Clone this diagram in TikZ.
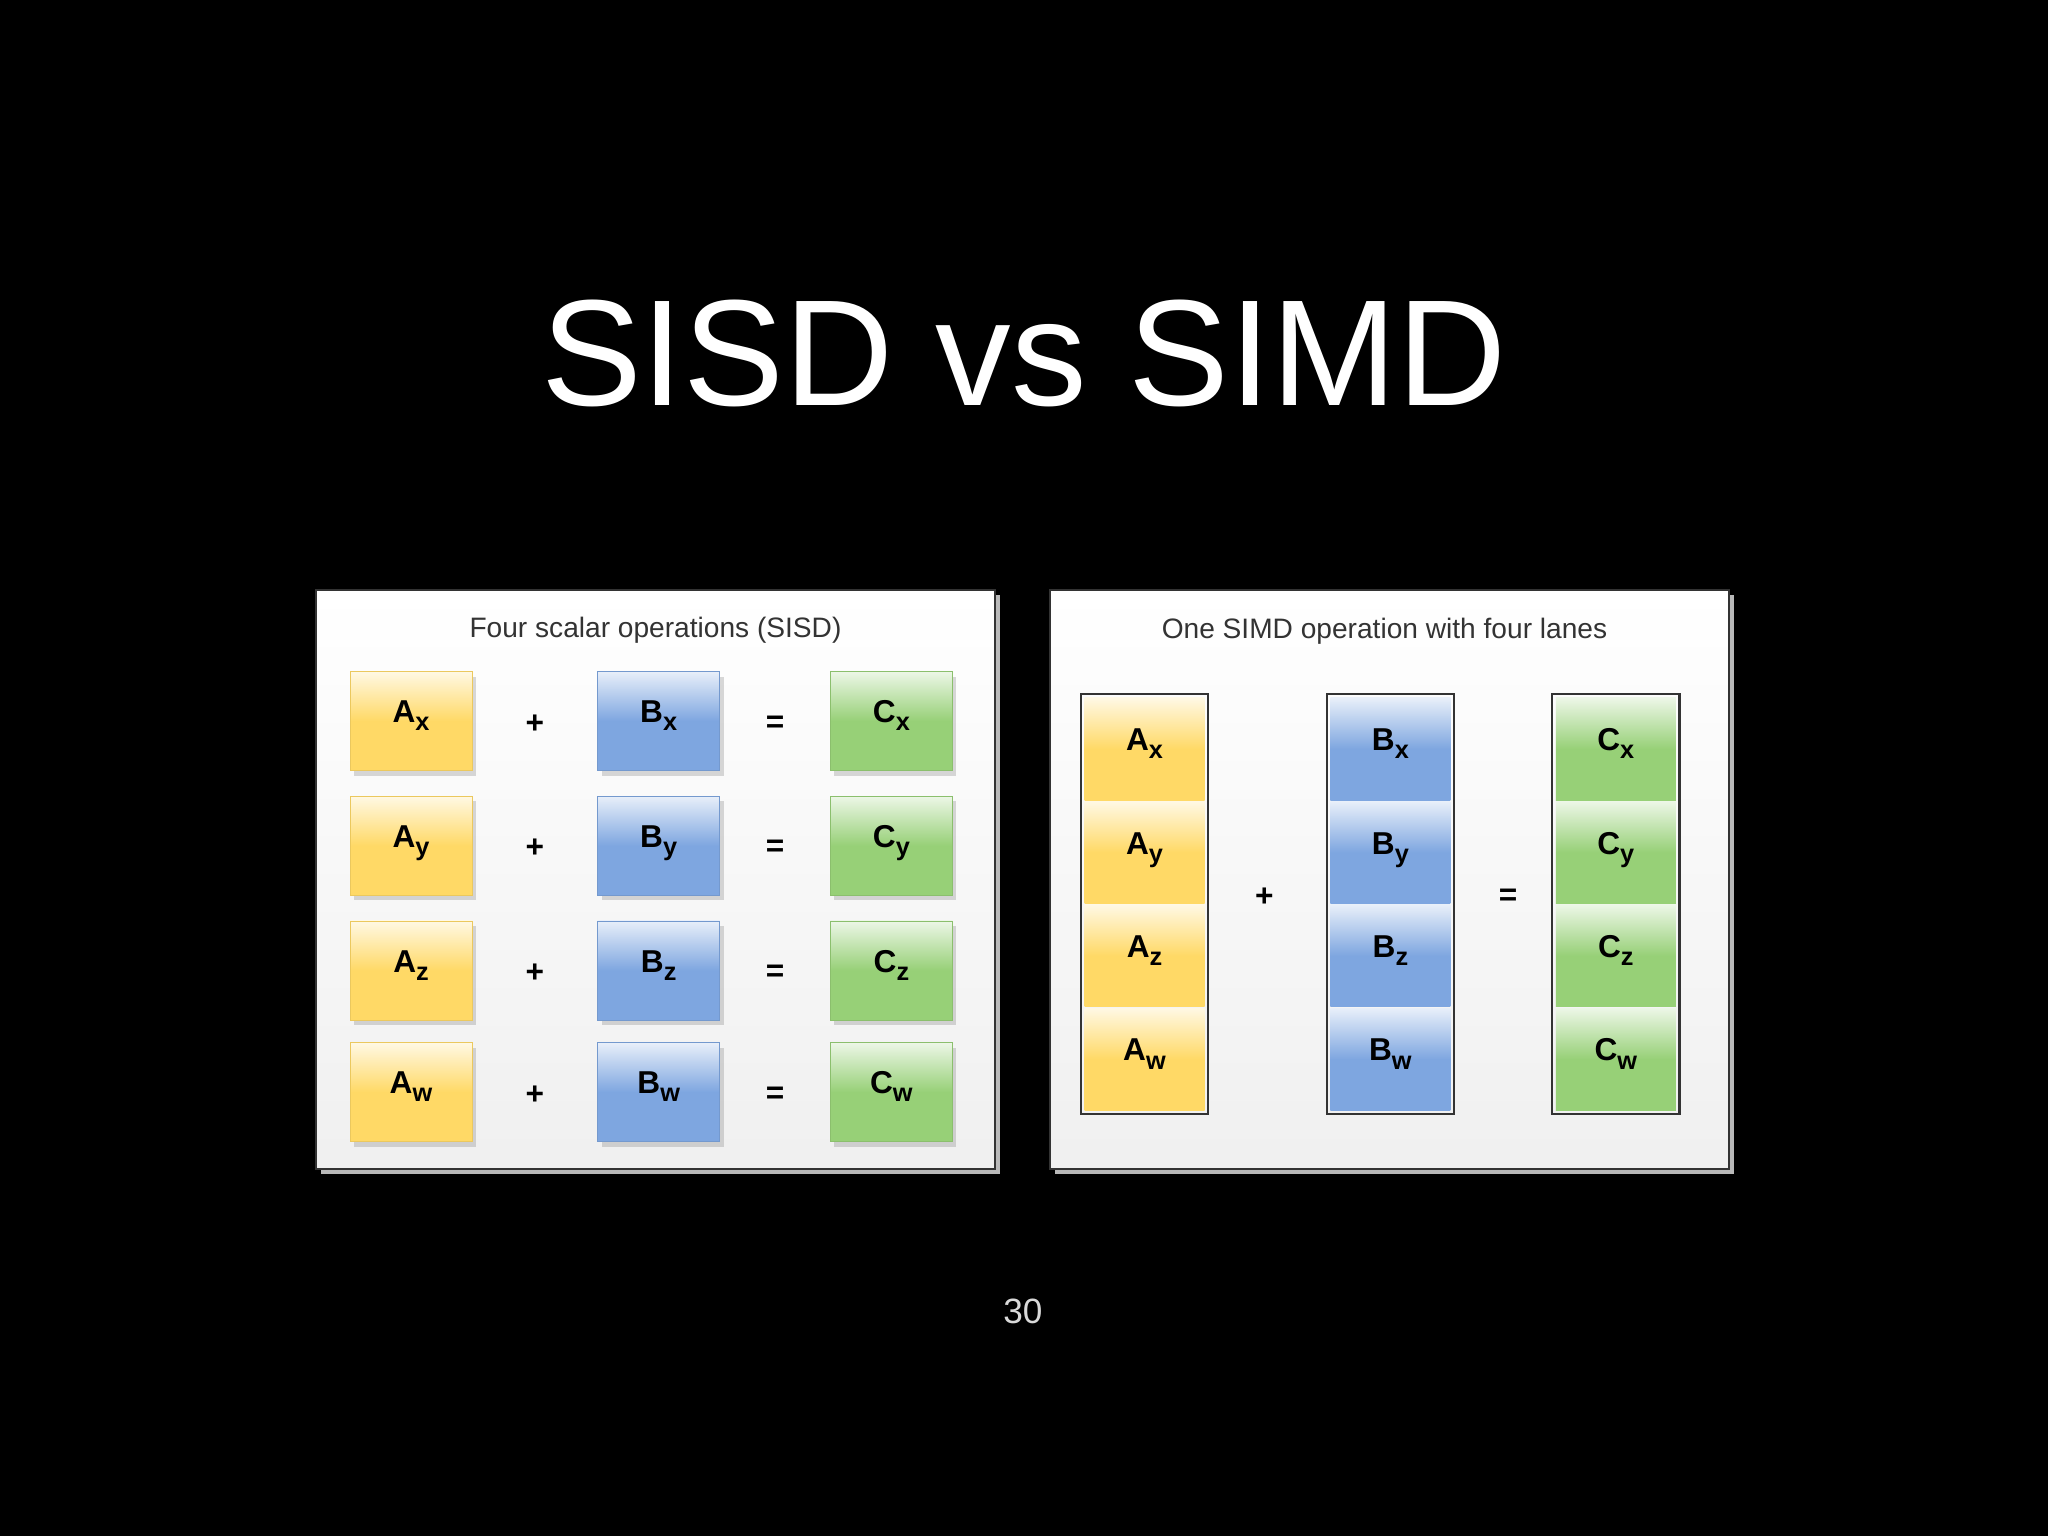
\documentclass[tikz,border=0pt]{standalone}
\usepackage{fontspec}
\setmainfont{Liberation Sans}
\usetikzlibrary{positioning,shadows,calc,fit}
\definecolor{yfill}{HTML}{FFD966}
\definecolor{bfill}{HTML}{7EA6E0}
\definecolor{gfill}{HTML}{97D077}
\newcommand{\idx}[1]{\raisebox{-2.3pt}{\fontsize{7.2}{7.2}\selectfont #1}}

\begin{document}
\begin{tikzpicture}[
	cell/.style={rectangle,inner sep=0pt,font=\bfseries\fontsize{9}{9}\selectfont,text height=7pt,text depth=6pt},
	glass/.style={top color=#1!18!white,bottom color=#1,middle color=#1},
	scalar/.style={cell,glass=#1,draw=#1!92!black,line width=0.2pt,minimum width=1.22cm,minimum height=0.99cm,drop shadow={shadow xshift=0.04cm,shadow yshift=-0.05cm,opacity=0.3}},
	lanecell/.style={cell,glass=#1,minimum width=1.20cm,minimum height=1.02cm},
	lane/.style={draw=black!80,line width=0.6pt,inner sep=0.03cm},
	op/.style={font=\bfseries\fontsize{9}{9}\selectfont},
	panel/.style={rectangle,minimum width=6.79cm,minimum height=5.79cm,draw=gray!40!black,line width=0.4pt,top color=white,bottom color=gray!12,drop shadow={shadow xshift=0.05cm,shadow yshift=-0.05cm,fill=gray!55,opacity=1}},
	paneltitle/.style={font=\fontsize{8}{8}\selectfont,text=black!80}
	]
	
	% sfondo
	\fill[black] (0,0) rectangle (20.48,-15.36);
	
	% titolo e numero pagina
	\node[font=\fontsize{43}{50}\selectfont,text=white,anchor=base] (title) at (10.24,-4.06) {SISD vs SIMD};
	\node[font=\fontsize{10}{12}\selectfont,text=white!85!black] (pagenum) at (10.23,-13.11) {30};
	
	% pannello SISD
	\node[panel] (sisd) at (6.555,-8.795) {};
	\node[paneltitle] (sisdtitle) at ([yshift=-0.41cm]sisd.north) {Four scalar operations (SISD)};
	
	\node[scalar=yfill] (ax) at (4.11,-7.21) {A\idx{x}};
	\node[scalar=bfill,right=1.25cm of ax] (bx) {B\idx{x}};
	\node[scalar=gfill,right=1.10cm of bx] (cx) {C\idx{x}};
	\node[scalar=yfill,below=0.25cm of ax] (ay) {A\idx{y}};
	\node[scalar=bfill,below=0.25cm of bx] (by) {B\idx{y}};
	\node[scalar=gfill,below=0.25cm of cx] (cy) {C\idx{y}};
	\node[scalar=yfill,below=0.25cm of ay] (az) {A\idx{z}};
	\node[scalar=bfill,below=0.25cm of by] (bz) {B\idx{z}};
	\node[scalar=gfill,below=0.25cm of cy] (cz) {C\idx{z}};
	\node[scalar=yfill,below=0.22cm of az] (aw) {A\idx{w}};
	\node[scalar=bfill,below=0.22cm of bz] (bw) {B\idx{w}};
	\node[scalar=gfill,below=0.22cm of cz] (cw) {C\idx{w}};
	
	% operatori SISD
	\node[op] (plusx) at ($(ax)!0.5!(bx)+(0,-0.03)$) {+};
	\node[op] (eqx) at ($(bx)!0.5!(cx)+(0,-0.03)$) {=};
	\node[op] (plusy) at ($(ay)!0.5!(by)+(0,-0.03)$) {+};
	\node[op] (eqy) at ($(by)!0.5!(cy)+(0,-0.03)$) {=};
	\node[op] (plusz) at ($(az)!0.5!(bz)+(0,-0.03)$) {+};
	\node[op] (eqz) at ($(bz)!0.5!(cz)+(0,-0.03)$) {=};
	\node[op] (plusw) at ($(aw)!0.5!(bw)+(0,-0.03)$) {+};
	\node[op] (eqw) at ($(bw)!0.5!(cw)+(0,-0.03)$) {=};
	
	% pannello SIMD
	\node[panel] (simd) at (13.895,-8.795) {};
	\node[paneltitle] (simdtitle) at ([xshift=-0.05cm,yshift=-0.42cm]simd.north) {One SIMD operation with four lanes};
	
	\node[lanecell=yfill] (vax) at (11.445,-7.49) {A\idx{x}};
	\node[lanecell=yfill,below=0cm of vax] (vay) {A\idx{y}};
	\node[lanecell=yfill,below=0cm of vay] (vaz) {A\idx{z}};
	\node[lanecell=yfill,below=0cm of vaz] (vaw) {A\idx{w}};
	\node[lanecell=bfill,right=1.245cm of vax] (vbx) {B\idx{x}};
	\node[lanecell=bfill,below=0cm of vbx] (vby) {B\idx{y}};
	\node[lanecell=bfill,below=0cm of vby] (vbz) {B\idx{z}};
	\node[lanecell=bfill,below=0cm of vbz] (vbw) {B\idx{w}};
	\node[lanecell=gfill,right=1.04cm of vbx] (vcx) {C\idx{x}};
	\node[lanecell=gfill,below=0cm of vcx] (vcy) {C\idx{y}};
	\node[lanecell=gfill,below=0cm of vcy] (vcz) {C\idx{z}};
	\node[lanecell=gfill,below=0cm of vcz] (vcw) {C\idx{w}};
	
	% registri
	\node[lane,fit=(vax)(vaw)] (lanea) {};
	\node[lane,fit=(vbx)(vbw)] (laneb) {};
	\node[lane,fit=(vcx)(vcw)] (lanec) {};
	
	% operatori SIMD
	\node[op] (vplus) at ($(lanea)!0.5!(laneb)+(-0.03,0.07)$) {+};
	\node[op] (veq) at ($(laneb)!0.5!(lanec)+(0.05,0.07)$) {=};
	
\end{tikzpicture}
\end{document}
